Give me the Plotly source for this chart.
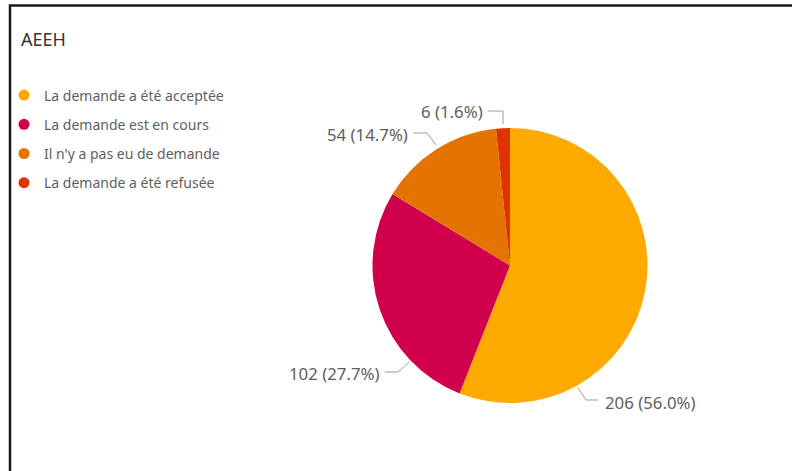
import plotly.graph_objects as go

W, H = 792, 471

# data
categories = ["La demande a été acceptée", "La demande est en cours",
              "Il n'y a pas eu de demande", "La demande a été refusée"]
counts = [206, 102, 54, 6]
colors = ["#FDAA00", "#D1004C", "#E57300", "#E03400"]

total = sum(counts)
label_texts = [f"{v} ({v / total:.1%})" for v in counts]

FONT = "Noto Sans, Open Sans, sans-serif"


def px(x):
    return x / W


def py(y):
    return 1 - y / H


fig = go.Figure()

# pie, starting at 12 o'clock and going clockwise
fig.add_trace(go.Pie(
    labels=categories,
    values=counts,
    marker=dict(colors=colors, line=dict(width=0)),
    sort=False,
    direction="clockwise",
    rotation=0,
    textinfo="none",
    hoverinfo="label+value+percent",
    showlegend=False,
    domain=dict(x=[px(372.5), px(647.5)], y=[py(403), py(128)]),
))

# circle markers for the legend
for i, (name, col) in enumerate(zip(categories, colors)):
    fig.add_trace(go.Scatter(
        x=[None], y=[None], mode="markers", name=name,
        legendgroup=f"g{i}",
        marker=dict(color=col, size=11, symbol="circle"),
    ))

# outside labels with elbow leader lines (Power BI style)
label_pos = [  # text anchor x, y, xanchor, leader path points (pixels)
    (603, 402, "left", [(578, 388), (586, 400), (598, 400)]),
    (381, 373, "right", [(409, 362), (398, 372), (385, 372)]),
    (410, 135, "right", [(436, 145), (427, 133), (413, 133)]),
    (485, 112, "right", [(503, 124), (503, 111), (488, 111)]),
]
for txt, (x, y, anc, pts) in zip(label_texts, label_pos):
    fig.add_annotation(
        x=px(x), y=py(y), xref="paper", yref="paper", text=txt,
        xanchor=anc, yanchor="middle", showarrow=False,
        font=dict(family=FONT, size=16.8, color="#605E5C"),
    )
    path = "M " + " L ".join(f"{px(a)},{py(b)}" for a, b in pts)
    fig.add_shape(type="path", path=path, xref="paper", yref="paper",
                  line=dict(color="#9B9B9B", width=1))

# visual frame (left and top edges) as one open path
frame = [(10, H), (10, 5.5), (W, 5.5)]
fig.add_shape(type="path", xref="paper", yref="paper",
              path="M " + " L ".join(f"{px(a)},{py(b)}" for a, b in frame),
              line=dict(color="#1A1A1A", width=2.5))

fig.update_layout(
    width=W, height=H,
    margin=dict(l=0, r=0, t=0, b=0),
    paper_bgcolor="white",
    plot_bgcolor="white",
    title=dict(text="AEEH", x=px(21), xanchor="left", y=py(40), yanchor="middle",
               font=dict(family=FONT, size=18, color="#333333")),
    legend=dict(
        x=px(4), y=py(79.5), xanchor="left", yanchor="top",
        font=dict(family=FONT, size=14, color="#605E5C"),
        tracegroupgap=8,
        bgcolor="rgba(0,0,0,0)",
    ),
    xaxis=dict(visible=False, showgrid=False, zeroline=False),
    yaxis=dict(visible=False, showgrid=False, zeroline=False),
    showlegend=True,
)

fig.write_html(
    "out.html",
    config={"displayModeBar": False},
    post_script=(
        "var s=document.createElement('style');"
        "s.textContent='html,body{margin:0;padding:0;overflow:hidden;scrollbar-width:none}"
        "::-webkit-scrollbar{display:none}';"
        "document.head.appendChild(s);"
    ),
)
